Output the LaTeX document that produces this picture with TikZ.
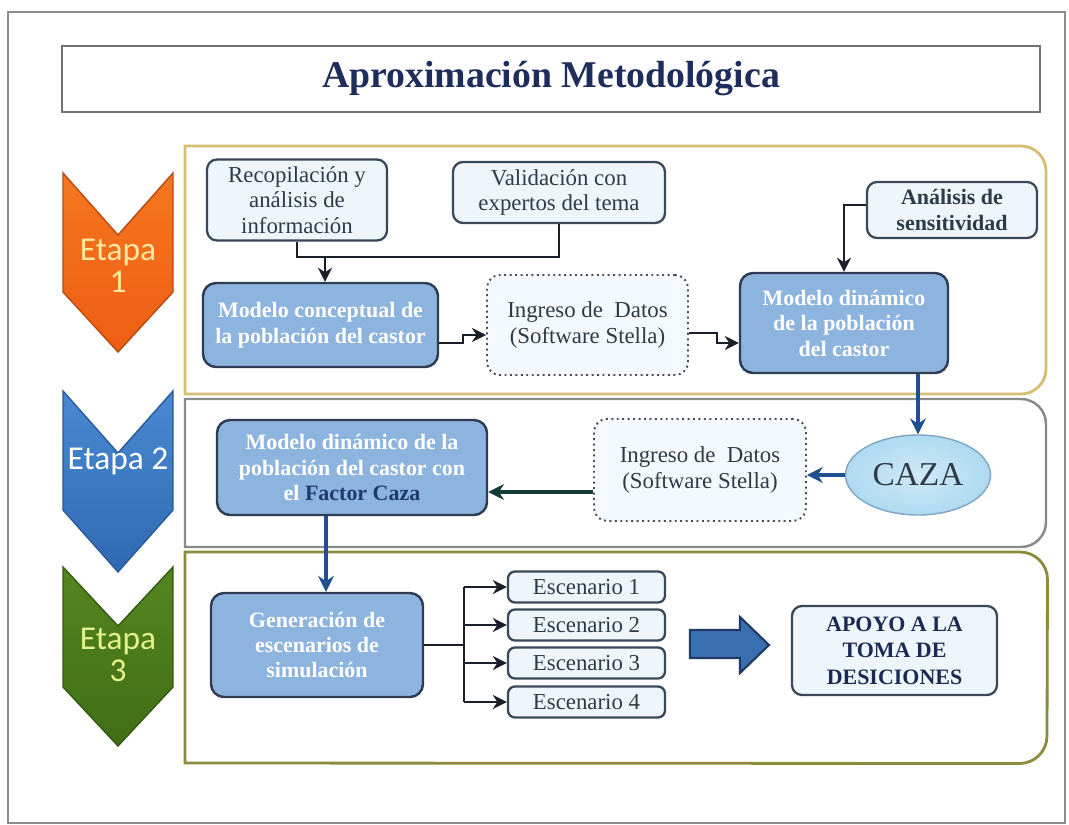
\documentclass[tikz,border=0pt]{standalone}
\usepackage{fontspec}
\setmainfont{Liberation Serif}
\newfontfamily\etapafont{Carlito}
\usetikzlibrary{arrows.meta,shapes.geometric}

\definecolor{titlenavy}{HTML}{1F2D5C}
\definecolor{boxtext}{HTML}{2F3A48}
\definecolor{darkfill}{HTML}{8DB3DF}
\definecolor{darkedge}{HTML}{2E3D52}
\definecolor{lightfill}{HTML}{EEF6FC}
\definecolor{lightedge}{HTML}{3B4859}
\definecolor{dotfill}{HTML}{F3F9FD}
\definecolor{cazafill}{HTML}{AEDAF0}
\definecolor{cazaedge}{HTML}{7FA6C4}
\definecolor{conncol}{HTML}{1A1F2A}
\definecolor{bluearrow}{HTML}{1F4F8F}
\definecolor{tealarrow}{HTML}{163A36}
\definecolor{goldframe}{HTML}{D6BE72}
\definecolor{grayframe}{HTML}{8A8A8A}
\definecolor{oliveframe}{HTML}{8C8C3C}
\definecolor{orangeA}{HTML}{F6761F}
\definecolor{orangeB}{HTML}{EE5E14}
\definecolor{orangeedge}{HTML}{B84B12}
\definecolor{orangetext}{HTML}{FFE9A0}
\definecolor{blueA}{HTML}{4A8AD2}
\definecolor{blueB}{HTML}{2F69B2}
\definecolor{blueedge}{HTML}{2A5A98}
\definecolor{greenA}{HTML}{55851F}
\definecolor{greenB}{HTML}{416E16}
\definecolor{greenedge}{HTML}{355A12}
\definecolor{greentext}{HTML}{E2F28C}
\definecolor{factor}{HTML}{1F3A6E}
\definecolor{bigarrowfill}{HTML}{3A6FB0}
\definecolor{bigarrowedge}{HTML}{1F3A66}

\begin{document}
\begin{tikzpicture}[x=0.02cm,y=-0.02cm,
  wh/.style 2 args={minimum width=#1*0.02cm, minimum height=#2*0.02cm},
  regtext/.style={font=\fontsize{13}{14.5}\selectfont, text=boxtext, align=center},
  boldtext/.style={font=\bfseries\fontsize{12.5}{14.5}\selectfont, align=center},
  lightbox/.style={draw=lightedge, line width=1.3pt, fill=lightfill, rounded corners=0.2cm,
    inner sep=1pt, regtext},
  darkbox/.style={draw=darkedge, line width=1.4pt, fill=darkfill, rounded corners=0.26cm,
    inner sep=1pt, boldtext, text=white},
  dotbox/.style={draw=black!70, dotted, line width=1.1pt, fill=dotfill, rounded corners=0.26cm,
    inner sep=1pt, regtext},
  titlebox/.style={draw=black!55, line width=0.6pt, fill=white,
    font=\bfseries\fontsize{21.5}{24}\selectfont, text=titlenavy},
  stagetext/.style={font=\etapafont\fontsize{19}{18}\selectfont, align=center},
  conn/.style={draw=conncol, line width=1.5pt},
  arr/.style={conn, -{Stealth[length=8pt,width=8pt]}},
  bluearr/.style={draw=bluearrow, line width=2.2pt, -{Stealth[length=9pt,width=9pt]}},
  tealarr/.style={draw=tealarrow, line width=2.4pt, -{Stealth[length=9pt,width=9pt]}},
]
\useasboundingbox (0,0) rectangle (1069,825);
\fill[white] (0,0) rectangle (1069,825);

% outer frame of the page
\draw[black!45, line width=0.6pt] (8,12) rectangle (1065,823);

% heading
\node[titlebox, wh={978}{66}] (title) at (551,79) {Aproximación Metodológica};

% stage frames (square on the left, rounded on the right)
\draw[goldframe, line width=1.6pt] (185,146) -- (1021,146)
  arc[start angle=90, end angle=0, radius=0.5cm] -- (1046,369)
  arc[start angle=0, end angle=-90, radius=0.5cm] -- (185,394) -- cycle;
\draw[grayframe, line width=1.4pt] (185,399) -- (1021,399)
  arc[start angle=90, end angle=0, radius=0.5cm] -- (1046,522)
  arc[start angle=0, end angle=-90, radius=0.5cm] -- (185,547) -- cycle;
\draw[oliveframe, line width=1.6pt] (185,552) -- (1020,552)
  arc[start angle=90, end angle=0, radius=0.55cm] -- (1047,736)
  arc[start angle=0, end angle=-90, radius=0.55cm] -- (185,763) -- cycle;

% stage chevrons
\draw[orangeedge, line width=0.8pt, top color=orangeA, bottom color=orangeB]
  (63,173) -- (118,235) -- (173,173) -- (173,292) -- (118,352) -- (63,292) -- cycle;
\draw[blueedge, line width=0.8pt, top color=blueA, bottom color=blueB]
  (63,391) -- (118,453) -- (173,391) -- (173,510) -- (118,572) -- (63,510) -- cycle;
\draw[greenedge, line width=0.8pt, top color=greenA, bottom color=greenB]
  (63,567) -- (118,626) -- (173,567) -- (173,687) -- (118,746) -- (63,687) -- cycle;
\node[stagetext, text=orangetext] (et1) at (118,266) {Etapa\\1};
\node[stagetext, text=white] (et2) at (118,461) {Etapa 2};
\node[stagetext, text=greentext] (et3) at (118,655) {Etapa\\3};

% stage 1
\node[lightbox, wh={180}{81}] (rec) at (297,200) {Recopilación y\\análisis de\\información};
\node[lightbox, wh={212}{61}] (val) at (559,192.5) {Validación con\\expertos del tema};
\node[darkbox, wh={235}{84}] (mc) at (320.5,325) {Modelo conceptual de\\la población del castor};
\node[dotbox, wh={201}{100}] (ing1) at (587.5,325) {Ingreso de\ \ Datos\\(Software Stella)};
\node[lightbox, wh={170}{56}, font=\bfseries\fontsize{12.5}{14.5}\selectfont] (ana) at (952,210) {Análisis de\\sensitividad};
\node[darkbox, wh={208}{100}] (md) at (844,323) {Modelo dinámico\\de la población\\del castor};

% stage 2
\node[ellipse, draw=cazaedge, line width=0.8pt, inner color=cazafill!60, outer color=cazafill,
  wh={124}{80}, font=\fontsize{19}{20}\selectfont, text=boxtext] (caza) at (918,475) {CAZA};
\node[dotbox, wh={212}{102}] (ing2) at (700,470) {Ingreso de\ \ Datos\\(Software Stella)};
\node[darkbox, wh={270}{95}] (md2) at (352,467.5) {Modelo dinámico de la\\población del castor con\\el \textcolor{factor}{Factor Caza}};

% stage 3
\node[darkbox, wh={212}{104}] (gen) at (317,645) {Generación de\\escenarios de\\simulación};
\foreach \i/\y in {1/587,2/625,3/663,4/702}
  \node[lightbox, wh={157}{31}, rounded corners=0.14cm] (esc\i) at (586.5,\y) {Escenario \i};
\node[lightbox, wh={205}{89}, font=\bfseries\fontsize{12.5}{15}\selectfont, text=titlenavy!90!black] (apoyo) at (894.5,650.5) {APOYO A LA\\TOMA DE\\DESICIONES};

% connectors, stage 1
\coordinate (j1) at (325,257);
\draw[conn] (rec.south) |- (j1);
\draw[conn] (val.south) |- (j1);
\draw[arr] (j1) -- (j1 |- mc.north);

\coordinate (k1) at (463,343);
\coordinate (k2) at (463,335);
\draw[arr] (mc.east |- k1) -- (k1) -- (k2) -- (k2 -| ing1.west);

\coordinate (k3) at (717,333);
\coordinate (k4) at (717,343);
\draw[arr] (ing1.east |- k3) -- (k3) -- (k4) -- (k4 -| md.west);

\coordinate (k5) at (844,205);
\draw[arr] (ana.west |- k5) -- (k5) -- (md.north);

% connectors, stage 2
\draw[bluearr] (md.south -| caza.north) -- (caza.north);
\draw[bluearr] (caza.west) -- (caza.west -| ing2.east);
\coordinate (k7) at (540,492);
\draw[tealarr] (ing2.west |- k7) -- (md2.east |- k7);

% connectors, stage 3
\coordinate (k8) at (326,0);
\draw[bluearr] (md2.south -| k8) -- (gen.north -| k8);
\coordinate (br) at (464,645);
\draw[conn] (gen.east |- br) -- (br);
\draw[conn] (br |- esc1.west) -- (br |- esc4.west);
\foreach \i in {1,...,4}
  \draw[arr] (br |- esc\i.west) -- (esc\i.west);

% block arrow towards the decision box
\draw[bigarrowedge, line width=1.2pt, fill=bigarrowfill]
  (690,630) -- (740,630) -- (740,617) -- (769,645) -- (740,673) -- (740,658) -- (690,658) -- cycle;
\end{tikzpicture}
\end{document}
